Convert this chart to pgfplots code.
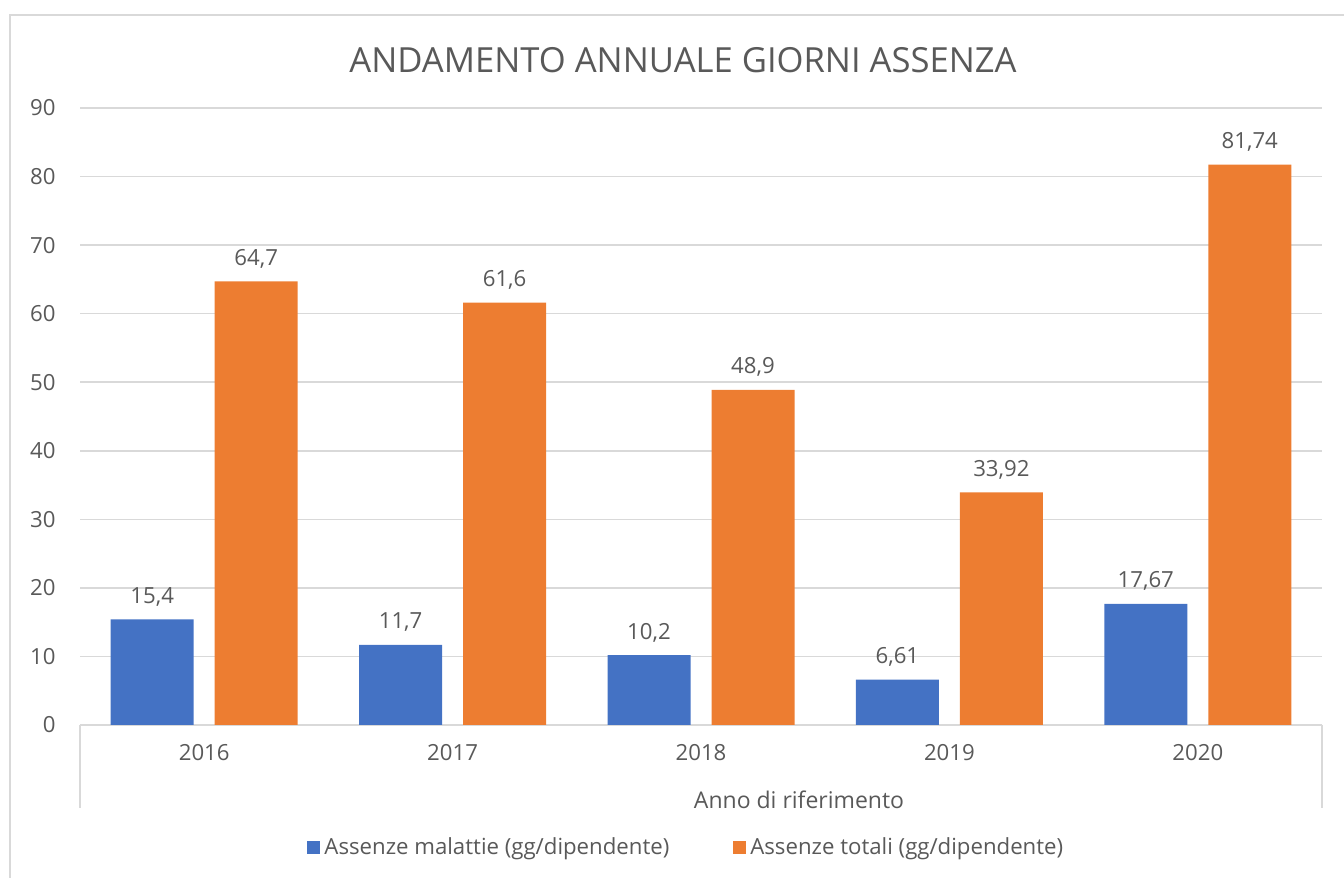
\documentclass[border=0pt]{standalone}
\usepackage{pgfplots}
\pgfplotsset{compat=1.18}
\usepackage{fontspec}
\setmainfont{Open Sans}
\definecolor{myblue}{HTML}{4472C4}
\definecolor{myorange}{HTML}{ED7D31}
\definecolor{txt}{HTML}{595959}
\definecolor{gridc}{HTML}{D9D9D9}
\newcommand{\tfont}{\fontsize{11.1}{13}\selectfont}
\begin{document}
\begin{tikzpicture}
\path[use as bounding box] (0,0) rectangle (672pt,439pt);
\draw[gridc, line width=0.8pt] (5pt,0) -- (5pt,431.5pt) -- (672pt,431.5pt);
\draw[gridc, line width=0.8pt] (40pt,76.5pt) -- (40pt,35pt);
\draw[gridc, line width=0.8pt] (661pt,76.5pt) -- (661pt,35pt);
\begin{axis}[
  at={(40pt,76.5pt)}, anchor=south west,
  scale only axis, width=621pt, height=308.5pt,
  xmin=-0.5, xmax=4.5, ymin=0, ymax=90,
  ytick={0,10,...,90}, xtick={0,...,4},
  xticklabels={2016,2017,2018,2019,2020},
  axis x line*=bottom, axis y line*=left,
  y axis line style={draw=none},
  x axis line style={gridc, line width=0.8pt, -},
  major tick length=0pt,
  ymajorgrids, grid style={gridc, line width=0.8pt},
  tick label style={font=\tfont, text=txt},
  yticklabel style={xshift=-8.7pt},
  xticklabel style={yshift=-6.2pt},
  /pgf/number format/.cd, use comma, fixed, precision=2, 1000 sep={}, assume math mode=true,
  /pgfplots/.cd,
  ybar=10.5pt, bar width=41.5pt,
  nodes near coords,
  every node near coord/.append style={font=\tfont, text=txt, yshift=3pt},
  legend style={at={(0.489,-0.199)}, anchor=center, legend columns=2, draw=none, font=\tfont, text=txt,
    /tikz/every even column/.append style={column sep=30pt}},
  legend image code/.code={\fill[#1] (0pt,-3.25pt) rectangle (6.5pt,3.25pt);},
]
\addplot[fill=myblue, draw=none] coordinates {(0,15.4) (1,11.7) (2,10.2) (3,6.61) (4,17.67)};
\addlegendentry{Assenze malattie (gg/dipendente)}
\addplot[fill=myorange, draw=none] coordinates {(0,64.7) (1,61.6) (2,48.9) (3,33.92) (4,81.74)};
\addlegendentry{Assenze totali (gg/dipendente)}
\end{axis}
\node[font=\fontsize{11.5}{13}\selectfont, text=txt] at (399.5pt,39pt) {Anno di riferimento};
\node[font=\fontsize{17.3}{20}\selectfont, text=txt] at (341.5pt,409pt) {ANDAMENTO ANNUALE GIORNI ASSENZA};
\end{tikzpicture}
\end{document}
